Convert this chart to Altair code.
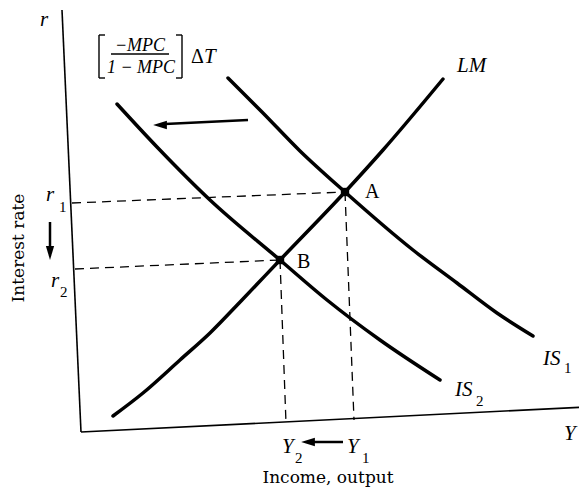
import altair as alt
import pandas as pd

# ---- data (picture coordinates, px) ----
lm_x = [113, 143, 180, 210, 242, 280, 345, 383, 443]
lm_y = [416, 393, 360, 333, 300, 260, 192, 150, 79]

is1_x = [228, 262, 300, 345, 413, 457, 497, 533]
is1_y = [78, 112, 151, 192, 250, 283, 313, 336]

is2_x = [117, 157, 210, 280, 327, 380, 440]
is2_y = [104, 147, 200, 260, 300, 340, 380]

# axes: [x1, y1, x2, y2]
axes_segs = [[62, 10, 81, 432], [81, 432, 587, 407]]
# dashed guides
dash_segs = [[72, 203, 345, 192], [75, 269, 280, 260], [345, 192, 354, 420], [280, 260, 286, 423]]
# equilibrium points
pt_names = ["A", "B"]
pt_x = [345, 280]
pt_y = [192, 260]

# formula brackets & fraction bar
bracket_segs = [[99, 35, 99, 78], [99, 35, 105, 35], [99, 78, 105, 78],
                [182, 35, 182, 78], [176, 35, 182, 35], [176, 78, 182, 78],
                [111, 54, 169, 54]]
# arrow shafts
arrow_segs = [[248, 120, 165, 124], [50, 222, 50, 250], [343, 442, 312, 442]]
# arrow heads: x, y, shape
head_x = [160, 50, 308]
head_y = [125, 253, 442]
head_shape = ["M-1,0L1,-0.6L1,0.6Z", "M0,1L-0.6,-1L0.6,-1Z", "M-1,0L1,-0.6L1,0.6Z"]

# italic labels (left / baseline)
it_text = ["r", "r", "r", "LM", "IS", "IS", "Y", "Y", "Y", "T"]
it_x = [40, 46, 51, 457, 543, 455, 282, 347, 564, 204]
it_y = [26, 201, 287, 72, 365, 396, 453, 453, 440, 63]
# subscripts
sub_text = ["1", "2", "1", "2", "2", "1"]
sub_x = [59, 60, 564, 476, 295, 362]
sub_y = [212, 297, 373, 406, 463, 463]
# upright labels
up_text = ["A", "B", "Δ"]
up_x = [365, 297, 191]
up_y = [198, 268, 63]
# formula (centered)
frac_text = ["\u2212MPC", "1 \u2212 MPC"]
frac_x = [140, 141]
frac_y = [51, 73]

xs = alt.Scale(domain=[8, 579], range=[0, 571], nice=False, zero=False)
ys = alt.Scale(domain=[8, 487], range=[0, 479], nice=False, zero=False)


def segs(lst):
    return pd.DataFrame(lst, columns=["x", "y", "x2", "y2"])


def curve(xv, yv, name):
    return pd.DataFrame({"x": xv, "y": yv, "o": range(len(xv)), "c": name})


def line_layer(df):
    return alt.Chart(df).mark_line(color="black", strokeWidth=3.5, interpolate="monotone",
                                   strokeCap="round").encode(
        x=alt.X("x:Q", scale=xs, axis=None),
        y=alt.Y("y:Q", scale=ys, axis=None),
        order="o:Q")


def rule_layer(df, **kw):
    return alt.Chart(df).mark_rule(color="black", **kw).encode(
        x=alt.X("x:Q", scale=xs, axis=None), y=alt.Y("y:Q", scale=ys, axis=None),
        x2="x2:Q", y2="y2:Q")


def text_layer(t, xv, yv, **kw):
    df = pd.DataFrame({"t": t, "x": xv, "y": yv})
    return alt.Chart(df).mark_text(color="black", baseline="alphabetic", **kw).encode(
        x=alt.X("x:Q", scale=xs, axis=None), y=alt.Y("y:Q", scale=ys, axis=None),
        text="t:N")


layers = [
    rule_layer(segs(axes_segs), strokeWidth=1.6),
    rule_layer(segs(dash_segs), strokeWidth=1.3, strokeDash=[9, 6]),
    line_layer(curve(lm_x, lm_y, "LM")),
    line_layer(curve(is1_x, is1_y, "IS1")),
    line_layer(curve(is2_x, is2_y, "IS2")),
    alt.Chart(pd.DataFrame({"n": pt_names, "x": pt_x, "y": pt_y})).mark_square(
        color="black", size=70, opacity=1).encode(
        x=alt.X("x:Q", scale=xs, axis=None), y=alt.Y("y:Q", scale=ys, axis=None)),
    rule_layer(segs(bracket_segs), strokeWidth=1.4),
    rule_layer(segs(arrow_segs), strokeWidth=2.5),
]
for hx, hy, hs in zip(head_x, head_y, head_shape):
    layers.append(alt.Chart(pd.DataFrame({"x": [hx], "y": [hy]})).mark_point(
        shape=hs, filled=True, color="black", size=190, opacity=1).encode(
        x=alt.X("x:Q", scale=xs, axis=None), y=alt.Y("y:Q", scale=ys, axis=None)))

layers += [
    text_layer(it_text, it_x, it_y, align="left", font="Liberation Serif",
               fontStyle="italic", fontSize=21),
    text_layer(sub_text, sub_x, sub_y, align="left", font="Liberation Serif", fontSize=15),
    text_layer(up_text, up_x, up_y, align="left", font="Liberation Serif", fontSize=20),
    text_layer(frac_text, frac_x, frac_y, align="center", font="Liberation Serif",
               fontStyle="italic", fontSize=18),
    text_layer(["Income, output"], [328], [483], align="center", font="DejaVu Serif",
               fontSize=17),
    text_layer(["Interest rate"], [24], [248], align="center", font="DejaVu Serif",
               fontSize=17, angle=270),
]

chart = alt.layer(*layers).properties(
    width=571, height=479,
    autosize=alt.AutoSizeParams(type="none"),
    padding=0,
    background="white",
).configure_view(stroke=None)

chart.save("out.html", embed_options={"renderer": "svg", "actions": False})
